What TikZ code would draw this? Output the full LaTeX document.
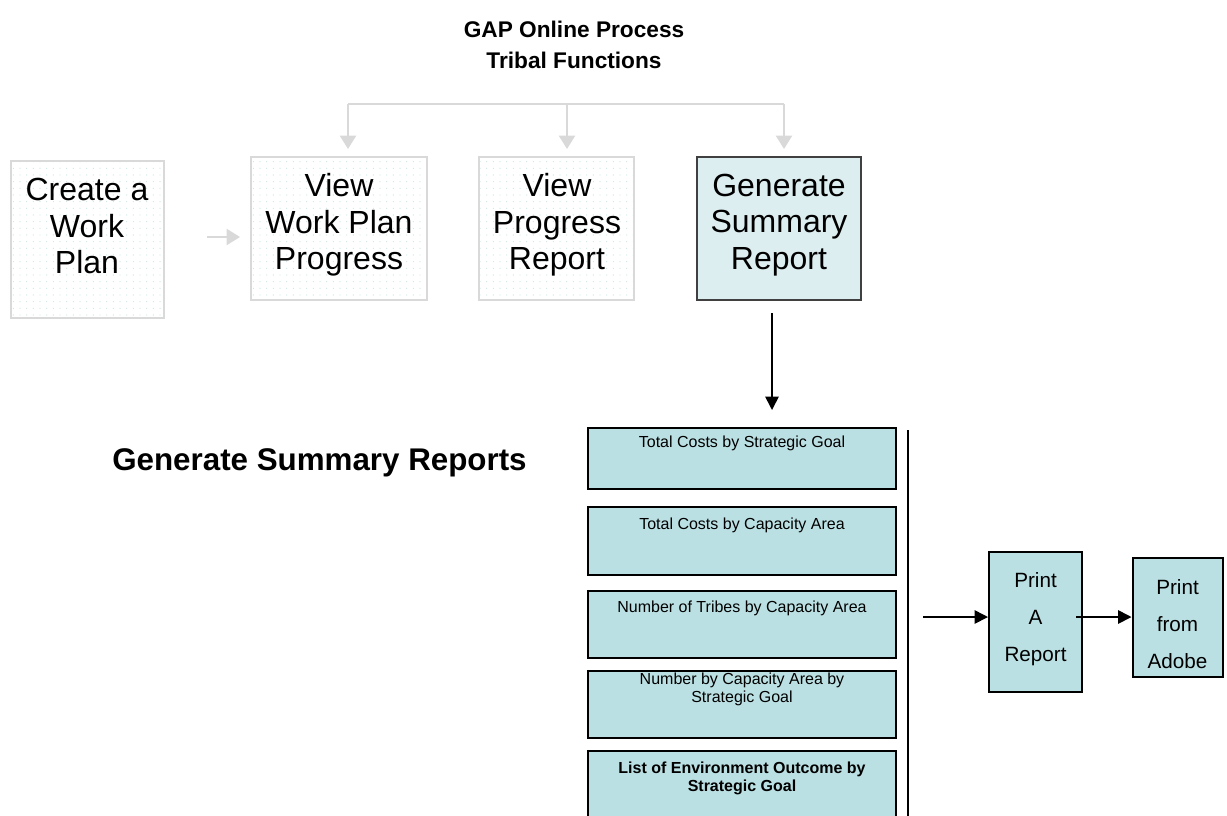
\documentclass[tikz,border=0pt]{standalone}
\usepackage{fontspec}
\setmainfont{Liberation Sans}
\usetikzlibrary{arrows.meta,patterns.meta}
\definecolor{lgray}{HTML}{D9D9D9}
\definecolor{dotc}{HTML}{CFE6E6}
\definecolor{genfill}{HTML}{DDEEF0}
\definecolor{repfill}{HTML}{BBE0E3}
\definecolor{genborder}{HTML}{404040}
\tikzdeclarepattern{
  name=sparsedots,
  type=uncolored,
  bounding box={(-1pt,-1pt) and (1pt,1pt)},
  tile size={(5pt,5pt)},
  code={\fill (0,0) circle (0.5pt);}
}
\tikzset{
  dotbox/.style={draw=lgray, line width=1.5pt, pattern={sparsedots}, pattern color=dotc},
  genbox/.style={draw=genborder, line width=1pt, fill=genfill},
  repbox/.style={draw=black, line width=1.5pt, fill=repfill},
  bigtxt/.style={align=center, font=\fontsize{24}{27.5}\selectfont},
  reptxt/.style={align=center, font=\fontsize{12}{13}\selectfont},
  prtxt/.style={align=center, font=\fontsize{15.5}{27.5}\selectfont},
  grayarrow/.style={draw=lgray, line width=1.6pt, -{Triangle[length=10pt,width=12pt]}},
  blackarrow/.style={draw=black, line width=1.2pt, -{Triangle[length=10pt,width=10pt]}},
}
\begin{document}
\begin{tikzpicture}[x=0.75pt,y=-0.75pt]
\useasboundingbox (0,0) rectangle (1227,815);
% title
\node[font=\fontsize{17}{23.5}\selectfont\bfseries, align=center] (title) at (574,45) {GAP Online Process\\Tribal Functions};
% top boxes
\path[dotbox] (11,161) rectangle (164,318);
\node[bigtxt] (createtxt) at (87,226) {Create a\\Work\\Plan};
\path[dotbox] (251,157) rectangle (427,300);
\node[inner sep=0pt, minimum width={176*0.75pt}, minimum height={143*0.75pt}] (view1) at (339,228.5) {};
\node[bigtxt] (view1txt) at (339,225) {View\\Work Plan\\Progress};
\path[dotbox] (479,157) rectangle (634,300);
\node[inner sep=0pt, minimum width={155*0.75pt}, minimum height={143*0.75pt}] (view2) at (556.5,228.5) {};
\node[bigtxt] (view2txt) at (557,225) {View\\Progress\\Report};
\node[genbox, inner sep=0pt, minimum width={164*0.75pt}, minimum height={143*0.75pt}] (gen) at (779,228.5) {};
\node[bigtxt] (gentxt) at (779,225) {Generate\\Summary\\Report};
% gray connectors
\coordinate (bl) at (348,104);
\coordinate (bm) at (567,104);
\coordinate (br) at (784,104);
\coordinate (blt) at (348,149);
\coordinate (bmt) at (567,149);
\coordinate (brt) at (784,149);
\draw[draw=lgray, line width=1.6pt] (bl) -- (br);
\draw[grayarrow] (bl) -- (blt);
\draw[grayarrow] (bm) -- (bmt);
\draw[grayarrow] (br) -- (brt);
\coordinate (ga1) at (207,237);
\coordinate (ga2) at (240,237);
\draw[grayarrow] (ga1) -- (ga2);
% black arrow down
\coordinate (gd0) at (772,313);
\coordinate (gd) at (772,410);
\draw[blackarrow] (gd0) -- (gd);
% GSR heading
\node[font=\fontsize{23.5}{26}\selectfont\bfseries] (gsr) at (319.5,463) {Generate Summary Reports};
% report boxes
\node[repbox, inner sep=0pt, minimum width={308*0.75pt}, minimum height={61*0.75pt}] (r1) at (742,458.5) {};
\node[reptxt] (r1t) at (742,443) {Total Costs by Strategic Goal};
\node[repbox, inner sep=0pt, minimum width={308*0.75pt}, minimum height={68*0.75pt}] (r2) at (742,541) {};
\node[reptxt] (r2t) at (742,525) {Total Costs by Capacity Area};
\node[repbox, inner sep=0pt, minimum width={308*0.75pt}, minimum height={67*0.75pt}] (r3) at (742,624.5) {};
\node[reptxt] (r3t) at (742,608) {Number of Tribes by Capacity Area};
\node[repbox, inner sep=0pt, minimum width={308*0.75pt}, minimum height={67*0.75pt}] (r4) at (742,704.5) {};
\node[reptxt, font=\fontsize{12}{13.5}\selectfont] (r4t) at (742,689) {Number by Capacity Area by\\Strategic Goal};
\node[repbox, inner sep=0pt, minimum width={308*0.75pt}, minimum height={72*0.75pt}] (r5) at (742,787) {};
\node[reptxt, font=\fontsize{12}{13.5}\selectfont\bfseries] (r5t) at (742,778) {List of Environment Outcome by\\Strategic Goal};
% vertical line
\coordinate (vt) at (908,430);
\coordinate (vb) at (908,816);
\draw[line width=1.2pt] (vt) -- (vb);
% print boxes
\node[repbox, inner sep=0pt, minimum width={93*0.75pt}, minimum height={140*0.75pt}] (pr) at (1035.5,622) {};
\node[prtxt] (prt) at (1035.5,619) {Print\\A\\Report};
\node[repbox, inner sep=0pt, minimum width={90*0.75pt}, minimum height={119*0.75pt}] (pa) at (1177.5,617.5) {};
\node[prtxt] (pat) at (1177.5,624) {Print\\from\\Adobe};
\coordinate (pin) at (923,617);
\coordinate (pout) at (1076,617);
\draw[blackarrow] (pin) -- (pr.west |- pin);
\draw[blackarrow] (pout) -- (pa.west |- pin);
\end{tikzpicture}
\end{document}
